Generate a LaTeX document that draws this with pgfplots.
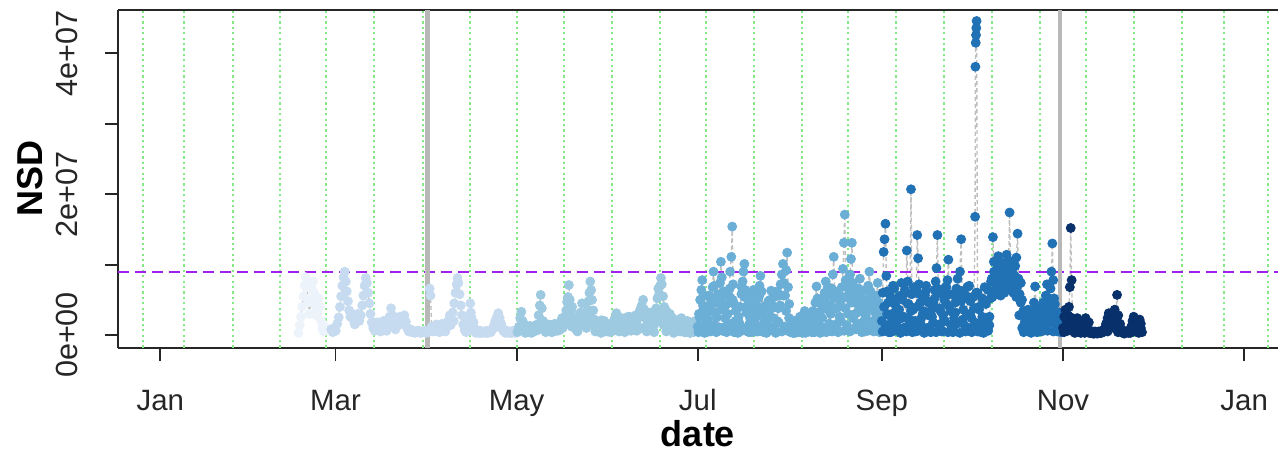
\documentclass[border=0pt]{standalone}
\usepackage{fontspec}
\setmainfont{Liberation Sans}
\usepackage{pgfplots}
\usepackage{pgfplotstable}
\pgfplotsset{compat=1.18}
\definecolor{cA}{HTML}{EDF3FA}
\definecolor{cB}{HTML}{C6DBEF}
\definecolor{cC}{HTML}{9ECAE1}
\definecolor{cD}{HTML}{6BAED6}
\definecolor{cE}{HTML}{2171B5}
\definecolor{cF}{HTML}{08306B}
\definecolor{lineg}{HTML}{BEBEBE}
\definecolor{gridg}{HTML}{84E884}
\definecolor{purp}{HTML}{A020F0}
\definecolor{thickg}{HTML}{B8B8B8}

% main track (connected in time order)
\pgfplotstableread{
d v
46.5 0.3
47.0 1.4
47.4 2.6
47.8 4.0
48.2 5.5
48.6 7.0
49.0 8.2
49.4 6.8
49.8 4.6
50.2 3.0
50.6 5.0
51.0 6.5
51.4 7.6
51.8 6.0
52.2 4.2
52.6 2.8
53.0 3.6
53.4 5.2
53.8 4.0
54.2 2.0
54.6 1.0
55.0 0.5
55.4 1.2
57.6 0.8
58.1 0.4
58.6 1.0
59.1 0.6
59.6 1.6
60.1 2.5
60.5 4.0
60.9 5.5
61.3 7.0
61.7 8.2
62.1 9.0
62.5 7.6
62.8 6.2
63.2 4.8
63.6 3.5
64.0 2.6
64.5 3.0
65.0 2.2
65.5 1.5
66.0 2.4
66.5 3.0
67.0 2.0
67.5 2.8
68.0 4.2
68.4 5.6
68.8 7.0
69.2 8.1
69.6 7.4
70.0 6.0
70.4 4.5
70.8 3.0
71.2 1.8
71.7 1.0
72.2 0.6
72.7 1.2
73.2 1.8
73.7 1.0
74.2 0.5
74.7 1.5
75.2 2.0
75.7 1.2
76.2 0.6
76.7 1.6
77.2 2.6
77.7 3.8
78.2 2.8
78.7 1.6
79.2 0.8
79.7 1.4
80.2 2.0
80.7 2.6
81.2 1.8
81.7 2.4
82.2 2.8
82.7 1.9
83.2 1.0
83.7 0.5
84.2 0.8
84.7 0.4
85.2 0.6
85.7 0.3
86.2 0.5
86.7 0.4
87.2 0.6
87.7 0.3
88.2 0.5
88.7 0.4
89.2 0.6
89.7 0.3
90.3 0.5
90.7 6.6
91.0 5.6
91.4 1.2
92.0 0.5
92.5 0.8
93.0 1.5
93.5 0.8
94.0 0.4
94.5 1.0
95.0 1.6
95.5 0.9
96.0 0.5
96.5 1.2
97.0 2.0
97.5 2.8
98.0 2.2
98.5 3.2
99.0 4.5
99.4 6.0
99.8 7.2
100.1 8.1
100.4 7.4
100.8 5.8
101.2 4.2
101.6 2.8
102.0 1.5
102.5 0.7
103.0 0.4
103.5 1.0
104.0 2.2
104.4 4.5
104.8 2.5
105.3 1.2
105.8 0.6
106.3 0.3
106.8 0.7
107.3 0.4
107.8 0.6
108.3 0.3
108.8 0.5
109.3 0.4
109.8 0.6
110.3 0.3
110.8 0.5
111.3 0.4
111.8 0.8
112.3 1.3
112.8 2.0
113.3 2.5
113.8 3.1
114.3 2.4
114.8 1.6
115.3 0.9
115.8 0.5
116.3 0.3
116.8 0.6
117.3 0.4
117.8 0.5
118.3 0.3
118.8 0.6
119.3 0.4
119.8 0.5
120.3 0.4
120.8 1.2
121.2 2.4
121.6 3.3
122.0 2.0
122.5 0.8
123.0 0.3
123.5 0.6
124.0 1.0
124.5 0.5
125.0 0.3
125.5 0.7
126.0 1.2
126.5 0.6
127.0 1.5
127.4 2.8
127.8 4.2
128.1 5.7
128.5 3.8
128.9 2.0
129.3 0.8
129.8 0.4
130.3 0.9
130.8 1.5
131.3 0.8
131.8 0.4
132.3 1.0
132.8 1.6
133.3 1.0
133.8 0.6
134.3 1.2
134.8 1.8
135.3 2.4
135.8 1.5
136.3 2.6
136.7 3.5
137.0 4.7
137.3 5.4
137.6 7.1
137.9 5.0
138.3 3.4
138.7 4.0
139.1 2.6
139.5 1.4
140.0 0.8
140.5 1.6
141.0 2.4
141.5 3.2
142.0 4.5
142.5 3.0
143.0 2.0
143.5 2.8
143.9 3.6
144.2 4.8
144.5 6.0
144.8 7.6
145.1 6.4
145.4 5.0
145.8 3.5
146.2 2.2
146.6 1.2
147.1 0.6
147.6 0.9
148.1 1.6
148.4 0.3
148.6 2.1
149.1 1.2
149.6 0.5
150.1 0.8
150.6 1.4
151.1 0.7
151.6 0.4
152.1 1.0
152.6 1.8
153.1 2.4
153.6 3.1
154.1 2.2
154.6 1.4
155.1 0.7
155.6 1.5
156.1 2.2
156.4 0.4
156.6 1.6
157.1 0.9
157.6 1.8
158.1 2.6
158.6 1.9
159.1 1.0
159.6 2.0
160.1 2.8
160.4 0.6
160.6 2.2
161.1 3.0
161.6 3.6
162.1 4.2
162.6 5.0
163.0 3.6
163.5 2.4
163.8 0.5
164.0 1.5
164.5 2.6
165.0 3.2
165.5 2.0
166.0 1.2
166.3 0.4
166.5 2.5
167.0 3.8
167.4 5.2
167.7 6.6
168.0 5.8
168.3 7.0
168.6 8.1
168.9 7.2
169.3 5.5
169.7 4.0
170.1 2.6
170.4 0.5
170.6 1.6
171.1 2.4
171.6 3.0
172.1 2.0
172.6 1.0
172.9 0.3
173.1 0.6
173.6 1.4
174.1 2.1
174.6 1.2
175.1 0.5
175.6 0.9
176.1 1.7
176.6 1.0
177.1 0.4
177.6 1.1
178.1 1.8
178.4 0.3
178.6 1.0
179.1 0.6
179.6 1.3
180.1 2.0
180.6 1.2
181.0 1.2
181.4 3.0
181.8 5.0
182.2 6.4
182.5 7.8
182.8 5.5
183.2 3.6
183.6 1.5
184.0 0.4
184.4 2.2
184.8 4.0
185.2 5.2
185.6 3.4
186.0 6.8
186.3 9.0
186.6 7.0
187.0 4.6
187.4 2.5
187.8 0.8
188.2 4.8
188.5 7.4
188.8 10.4
189.1 8.2
189.5 5.6
189.9 3.8
190.3 1.2
190.7 0.4
191.1 3.0
191.5 5.6
191.9 9.0
192.3 11.1
192.6 15.4
192.9 7.2
193.3 4.4
193.7 2.0
194.1 0.5
194.5 0.3
194.9 1.8
195.3 4.0
195.7 5.8
196.1 7.6
196.4 9.0
196.7 10.1
197.0 6.4
197.4 3.2
197.8 1.0
198.2 0.4
198.6 2.4
199.0 4.5
199.4 6.0
199.8 3.5
200.2 1.2
200.6 0.5
201.0 2.8
201.4 5.2
201.8 7.0
202.1 8.4
202.5 6.2
202.9 4.0
203.3 1.8
203.7 0.6
204.1 0.3
204.5 1.5
204.9 3.2
205.3 5.0
205.7 6.3
206.1 4.2
206.5 2.4
206.9 0.8
207.3 0.4
207.7 2.0
208.1 3.8
208.5 5.6
208.9 7.2
209.3 8.6
209.7 10.1
210.0 7.4
210.4 5.6
210.8 9.2
211.1 11.7
211.4 6.8
211.8 4.4
212.2 2.2
212.6 0.6
213.0 0.3
213.4 1.0
213.8 2.0
214.2 0.8
214.6 0.4
215.0 1.5
215.4 2.6
215.8 0.9
216.2 0.3
216.6 1.8
217.0 3.4
217.4 2.0
217.8 0.6
218.2 1.4
218.6 2.8
219.0 1.2
219.4 0.4
219.8 1.0
220.2 2.6
220.6 4.6
221.0 6.9
221.3 5.2
221.7 3.2
222.1 1.2
222.5 0.5
222.9 2.4
223.3 4.4
223.7 6.0
224.1 7.6
224.5 5.6
224.9 3.6
225.3 1.6
225.7 4.2
226.1 6.6
226.5 8.6
226.8 11.1
227.1 6.2
227.5 3.8
227.9 1.6
228.3 0.5
228.7 2.6
229.1 4.8
229.5 6.8
229.9 9.4
230.2 13.1
230.5 17.1
230.8 7.8
231.2 5.4
231.6 3.0
232.0 6.0
232.3 8.6
232.6 10.8
232.9 13.1
233.2 7.4
233.6 5.2
234.0 3.0
234.4 1.2
234.8 4.4
235.2 6.6
235.6 8.0
236.0 5.8
236.4 3.4
236.8 1.4
237.2 0.5
237.6 2.8
238.0 5.0
238.4 7.0
238.8 9.0
239.2 6.2
239.6 4.0
240.0 2.0
240.4 0.8
240.8 3.2
241.2 5.6
241.6 7.4
242.0 4.6
242.4 2.2
242.8 0.6
243.0 2.0
243.3 6.0
243.6 11.8
243.9 13.6
244.2 15.8
244.5 8.4
244.8 6.2
245.1 4.6
245.4 2.8
245.7 1.0
246.0 0.4
246.4 3.0
246.8 5.0
247.2 6.6
247.6 4.2
248.0 2.0
248.4 0.6
248.8 3.6
249.2 5.6
249.6 7.4
250.0 5.0
250.4 2.6
250.8 1.0
251.1 6.0
251.4 12.0
251.7 7.6
252.0 4.4
252.4 2.2
252.8 20.7
253.1 5.8
253.5 3.6
253.9 1.2
254.3 0.5
254.6 6.6
254.9 14.2
255.2 10.9
255.5 7.2
255.9 4.6
256.3 2.4
256.7 0.8
257.1 3.4
257.5 5.6
257.9 7.0
258.3 4.8
258.7 2.8
259.1 1.0
259.5 0.4
259.9 2.6
260.3 4.6
260.7 6.4
261.1 7.6
261.4 9.5
261.7 14.2
262.0 6.0
262.4 3.8
262.8 1.6
263.2 0.5
263.6 2.8
264.0 5.0
264.4 6.8
264.8 4.4
265.1 7.8
265.4 10.7
265.7 5.8
266.1 3.4
266.5 1.2
266.9 0.4
267.3 2.4
267.7 4.6
268.1 6.6
268.5 8.0
268.9 5.4
269.3 9.0
269.7 13.6
270.0 6.2
270.4 3.6
270.8 1.4
271.2 0.5
271.6 3.0
272.0 5.4
272.4 7.0
272.8 4.8
273.2 2.4
273.6 0.8
274.0 3.8
274.4 16.8
274.5 38.1
274.6 41.5
274.7 42.6
274.8 43.6
274.9 44.6
275.2 6.0
275.6 4.0
276.0 1.6
276.4 0.4
276.8 2.6
277.2 5.0
277.6 6.8
278.0 4.4
278.4 2.0
278.8 0.6
279.2 1.4
279.6 5.2
280.0 8.0
280.4 13.9
280.7 10.4
281.0 8.6
281.4 6.6
281.8 9.4
282.2 11.2
282.6 7.8
283.0 5.6
283.4 8.2
283.8 10.0
284.2 7.0
284.6 9.6
285.0 11.4
285.4 8.4
285.7 10.6
286.0 17.4
286.3 9.2
286.7 6.4
287.1 8.8
287.5 7.2
287.9 9.8
288.3 11.0
288.7 14.4
289.0 8.0
289.4 5.8
289.8 7.4
290.2 5.0
290.6 3.4
291.0 1.6
291.4 0.6
291.8 2.4
292.2 3.6
292.6 1.8
293.0 0.5
293.4 1.4
293.8 2.8
294.2 4.6
294.6 6.9
295.0 3.8
295.4 1.6
295.8 0.5
296.2 1.2
296.6 2.6
297.0 1.0
297.4 2.2
297.8 4.0
298.2 5.6
298.6 7.2
299.0 4.4
299.4 2.4
299.8 6.6
300.1 9.0
300.4 13.0
300.7 7.8
301.0 5.2
301.4 3.2
301.8 1.4
302.2 0.5
302.6 2.0
303.0 1.0
303.4 0.4
304.0 1.0
304.4 2.6
304.8 3.6
305.2 2.0
305.6 0.6
306.0 4.0
306.3 6.8
306.6 15.2
306.9 7.8
307.2 2.4
307.6 0.8
308.0 0.3
308.4 1.6
308.8 2.4
309.2 1.2
309.6 0.4
310.0 0.3
310.4 1.0
310.8 0.5
311.2 1.6
311.6 2.4
312.0 1.4
312.4 0.5
312.8 0.3
313.2 0.6
313.6 0.3
314.0 0.5
314.5 0.2
315.0 0.4
315.5 0.3
316.0 0.5
316.5 0.3
317.0 0.6
317.5 0.4
318.0 0.8
318.5 1.6
319.0 2.4
319.4 3.1
319.8 2.2
320.2 1.2
320.6 2.0
321.0 3.0
321.4 3.6
321.8 2.8
322.2 5.7
322.6 2.8
323.0 0.6
323.4 1.0
323.8 0.4
324.2 0.3
324.6 0.6
325.0 0.3
325.5 0.5
326.0 0.3
326.5 0.6
327.0 1.2
327.4 2.0
327.8 2.6
328.2 1.6
328.6 0.8
329.0 0.4
329.4 1.4
329.8 2.2
330.2 1.0
330.6 0.4
}\nsd

% further fixes of the same days (dense part of the cloud)
\pgfplotstableread{
d v
72.5 0.9
73.5 1.4
74.5 0.7
75.5 1.6
76.5 1.0
77.5 1.9
78.5 2.2
79.5 1.1
80.5 1.5
81.5 2.0
82.5 1.4
83.5 0.7
84.5 0.5
85.5 0.4
86.5 0.6
87.5 0.4
88.5 0.5
89.5 0.4
91.8 0.6
92.8 1.1
93.8 1.2
94.8 0.6
95.8 1.0
96.8 1.6
97.8 1.4
98.8 2.0
102.8 1.0
103.8 0.6
104.6 3.2
105.5 1.8
106.5 0.5
107.5 0.3
108.5 0.4
109.5 0.3
110.5 0.5
111.5 0.6
112.5 1.0
113.5 1.6
114.5 1.2
115.5 0.6
116.5 0.4
117.5 0.3
118.5 0.4
119.5 0.3
120.5 0.6
121.5 1.0
122.5 1.5
123.5 0.9
124.5 1.3
125.5 0.5
126.5 1.4
127.5 0.8
128.5 1.6
129.5 1.1
130.5 0.6
131.5 1.2
132.5 0.5
133.5 1.5
134.5 0.7
135.5 1.0
136.5 1.8
137.5 2.2
138.5 1.2
139.5 2.4
140.5 0.5
141.5 1.4
142.5 1.8
143.5 1.0
144.5 2.6
145.5 1.5
146.5 0.5
147.5 1.6
148.5 1.0
149.5 2.0
150.5 0.5
151.5 1.6
152.5 0.6
153.5 1.2
154.5 0.5
155.5 2.4
156.5 1.1
157.5 2.6
158.5 0.6
159.5 1.4
160.5 1.5
161.5 0.9
162.5 2.6
163.5 1.2
164.5 0.8
165.5 2.6
166.5 1.6
167.5 2.0
168.5 3.0
169.5 1.4
170.5 3.4
171.5 1.2
172.5 2.4
173.5 0.5
174.5 1.0
175.5 2.4
176.5 0.4
177.5 2.0
178.5 1.4
179.5 0.4
180.5 0.8
181.25 0.4
181.75 2.4
182.25 0.8
182.75 4.2
183.25 0.3
183.75 3.0
184.25 1.0
184.75 5.6
185.25 0.5
185.75 4.6
186.25 1.4
186.75 3.2
187.25 0.4
187.75 5.8
188.25 1.1
188.75 3.6
189.25 0.6
189.75 6.2
190.25 2.4
190.75 4.4
191.25 0.8
191.75 6.6
192.25 1.6
192.75 5.0
193.25 0.4
193.75 3.4
194.25 1.2
194.75 2.6
195.25 0.5
195.75 6.8
196.25 1.0
196.75 5.4
197.25 0.6
197.75 4.2
198.25 1.5
198.75 5.6
199.25 0.4
199.75 6.4
200.25 2.2
200.75 4.0
201.25 0.5
201.75 5.6
202.25 1.2
202.75 3.4
203.25 0.4
203.75 2.6
204.25 1.4
204.75 4.8
205.25 0.6
205.75 3.8
206.25 1.0
206.75 5.4
207.25 0.3
207.75 6.2
208.25 1.8
208.75 4.2
209.25 0.5
209.75 5.6
210.25 1.2
210.75 3.4
211.25 0.6
211.75 2.4
212.25 0.4
212.75 1.4
213.25 0.6
213.75 0.3
214.25 1.2
214.75 0.5
215.25 0.9
215.75 2.0
216.25 0.5
216.75 1.0
217.25 0.3
217.75 2.8
218.25 0.5
218.75 1.6
219.25 0.8
219.75 3.4
220.25 0.4
220.75 2.2
221.25 0.7
221.75 4.6
222.25 0.3
222.75 3.6
223.25 1.0
223.75 5.0
224.25 0.4
224.75 6.8
225.25 1.6
225.75 3.0
226.25 0.5
226.75 5.2
227.25 1.2
227.75 6.0
228.25 0.4
228.75 4.0
229.25 2.0
229.75 5.4
230.25 0.6
230.75 3.8
231.25 1.4
231.75 6.6
232.25 0.5
232.75 4.6
233.25 2.4
233.75 6.2
234.25 0.8
234.75 3.2
235.25 1.6
235.75 5.2
236.25 0.4
236.75 4.2
237.25 2.2
237.75 6.4
238.25 0.6
238.75 3.6
239.25 1.8
239.75 5.6
240.25 0.5
240.75 4.6
241.25 1.2
241.75 2.8
242.25 0.4
242.75 3.8
243.25 0.5
243.75 4.0
244.25 1.4
244.75 3.0
245.25 0.4
245.75 5.6
246.25 1.8
246.75 7.0
247.25 0.6
247.75 3.2
248.25 1.2
248.75 5.4
249.25 0.3
249.75 2.4
250.25 1.0
250.75 6.4
251.25 0.5
251.75 4.4
252.25 1.6
252.75 3.4
253.25 0.4
253.75 6.8
254.25 2.0
254.75 4.0
255.25 0.6
255.75 5.8
256.25 1.4
256.75 3.0
257.25 0.3
257.75 6.2
258.25 1.0
258.75 4.6
259.25 0.5
259.75 3.6
260.25 1.8
260.75 5.2
261.25 0.4
261.75 6.6
262.25 1.2
262.75 3.4
263.25 0.6
263.75 5.6
264.25 2.0
264.75 6.8
265.25 0.4
265.75 4.0
266.25 1.4
266.75 5.8
267.25 0.5
267.75 3.2
268.25 1.6
268.75 6.4
269.25 0.3
269.75 4.8
270.25 2.2
270.75 5.6
271.25 0.6
271.75 6.8
272.25 1.0
272.75 3.0
273.25 0.4
273.75 5.4
274.25 1.8
274.75 6.0
275.25 0.5
275.75 3.6
276.25 1.2
276.75 5.2
277.25 0.3
277.75 2.0
278.25 0.8
278.75 6.4
279.25 2.6
279.75 7.6
280.25 5.4
280.75 9.0
281.25 6.2
281.75 7.8
282.25 5.8
282.75 10.4
283.25 6.8
283.75 8.6
284.25 6.0
284.75 7.4
285.25 9.8
285.75 6.6
286.25 8.0
286.75 10.2
287.25 6.0
287.75 8.4
288.25 5.4
288.75 7.0
289.25 2.8
289.75 4.6
290.25 1.0
290.75 0.4
291.25 2.0
291.75 0.6
292.25 1.4
292.75 3.0
293.25 0.3
293.75 1.8
294.25 0.6
294.75 2.4
295.25 0.4
295.75 1.2
296.25 3.4
296.75 0.5
297.25 4.6
297.75 1.6
298.25 3.0
298.75 0.6
299.25 5.2
299.75 1.8
300.25 3.6
300.75 0.5
301.25 4.4
301.75 2.6
302.25 1.2
302.75 3.2
303.25 0.6
304.3 0.4
305.0 1.4
305.7 2.8
306.4 0.8
307.1 1.8
307.8 0.4
308.5 0.9
309.2 2.0
309.9 0.6
310.6 1.4
311.3 0.3
312.0 0.8
312.7 1.8
313.4 0.3
314.1 0.2
314.8 0.5
315.5 0.2
316.2 0.4
316.9 0.3
317.6 0.6
318.3 1.2
319.0 0.5
319.7 1.6
320.4 2.6
321.1 1.0
321.8 2.0
322.5 0.4
323.2 1.6
323.9 0.6
324.6 0.2
325.3 0.4
326.0 0.6
326.7 0.3
327.4 0.8
328.1 2.0
328.8 1.2
329.5 0.3
330.2 1.6
}\nsdx

\begin{document}
\begin{tikzpicture}
\useasboundingbox (-59pt,-53.15pt) rectangle (580pt,173.85pt);
\begin{axis}[
  at={(0,0)}, anchor=south west,
  scale only axis, width=580pt, height=168.85pt,
  xmin=-14.24, xmax=376.4, ymin=-1.8, ymax=46.16,
  axis x line*=box, axis y line*=left,
  axis line style={-, line width=0.9pt, black!85},
  xtick pos=left,
  tick align=outside, major tick length=6.5pt,
  tick style={line width=0.9pt, black!85},
  xtick={0,59,120,181,243,304,365},
  xticklabels={Jan,Mar,May,Jul,Sep,Nov,Jan},
  ytick={0,10,20,30,40},
  yticklabels={0e+00,,2e+07,,4e+07},
  xticklabel style={anchor=base, font=\fontsize{14.7}{16}\selectfont, text=black!85},
  xticklabel shift=25pt,
  yticklabel style={rotate=90, anchor=base, font=\fontsize{15.3}{17}\selectfont, text=black!85},
  yticklabel shift=13.9pt,
  xlabel={date}, ylabel={NSD},
  xlabel style={at={(axis description cs:0.5,-0.2932)}, anchor=base, font=\bfseries\fontsize{18}{20}\selectfont},
  ylabel style={at={(axis description cs:-0.0655,0.5)}, anchor=base, font=\bfseries\fontsize{18}{20}\selectfont},
  mk/.style={only marks, mark=*, mark size=2.25pt},
]
\addplot[no marks, color=lineg, line width=0.7pt, dash pattern=on 2pt off 1.5pt] table[x=d,y=v] {\nsd};
\addplot[mk, color=cA, restrict x to domain=40:56] table[x=d,y=v] {\nsd};
\addplot[mk, color=cB, restrict x to domain=57:120] table[x=d,y=v] {\nsd};
\addplot[mk, color=cB, restrict x to domain=57:120] table[x=d,y=v] {\nsdx};
\addplot[mk, color=cC, restrict x to domain=120.1:180.8] table[x=d,y=v] {\nsd};
\addplot[mk, color=cC, restrict x to domain=120.1:180.8] table[x=d,y=v] {\nsdx};
\addplot[mk, color=cD, restrict x to domain=180.9:242.9] table[x=d,y=v] {\nsd};
\addplot[mk, color=cD, restrict x to domain=180.9:242.9] table[x=d,y=v] {\nsdx};
\addplot[mk, color=cE, restrict x to domain=242.95:303.6] table[x=d,y=v] {\nsd};
\addplot[mk, color=cE, restrict x to domain=242.95:303.6] table[x=d,y=v] {\nsdx};
\addplot[mk, color=cF, restrict x to domain=303.9:340] table[x=d,y=v] {\nsd};
\addplot[mk, color=cF, restrict x to domain=303.9:340] table[x=d,y=v] {\nsdx};
\pgfplotsinvokeforeach{-5.96,8.08,24.34,40.4,55.79,72.05,88.55,104.38,120.03,136.03,152.09,168.35,183.84,200.0,216.2,231.65,247.7,264.0,280.2,296.3,311.8,327.9,344.0,358.2,373.1}{
  \draw[gridg, line width=1.05pt, dash pattern=on 1.1pt off 1.6pt] (axis cs:#1,-1.8) -- (axis cs:#1,46.16);
}
\draw[purp, line width=1.1pt, dash pattern=on 5.5pt off 3pt] (axis cs:-14.24,9) -- (axis cs:376.4,9);
\draw[thickg, line width=2.2pt] (axis cs:90,-1.8) -- (axis cs:90,46.16);
\draw[thickg, line width=2.2pt] (axis cs:303,-1.8) -- (axis cs:303,46.16);
\end{axis}
\end{tikzpicture}
\end{document}
